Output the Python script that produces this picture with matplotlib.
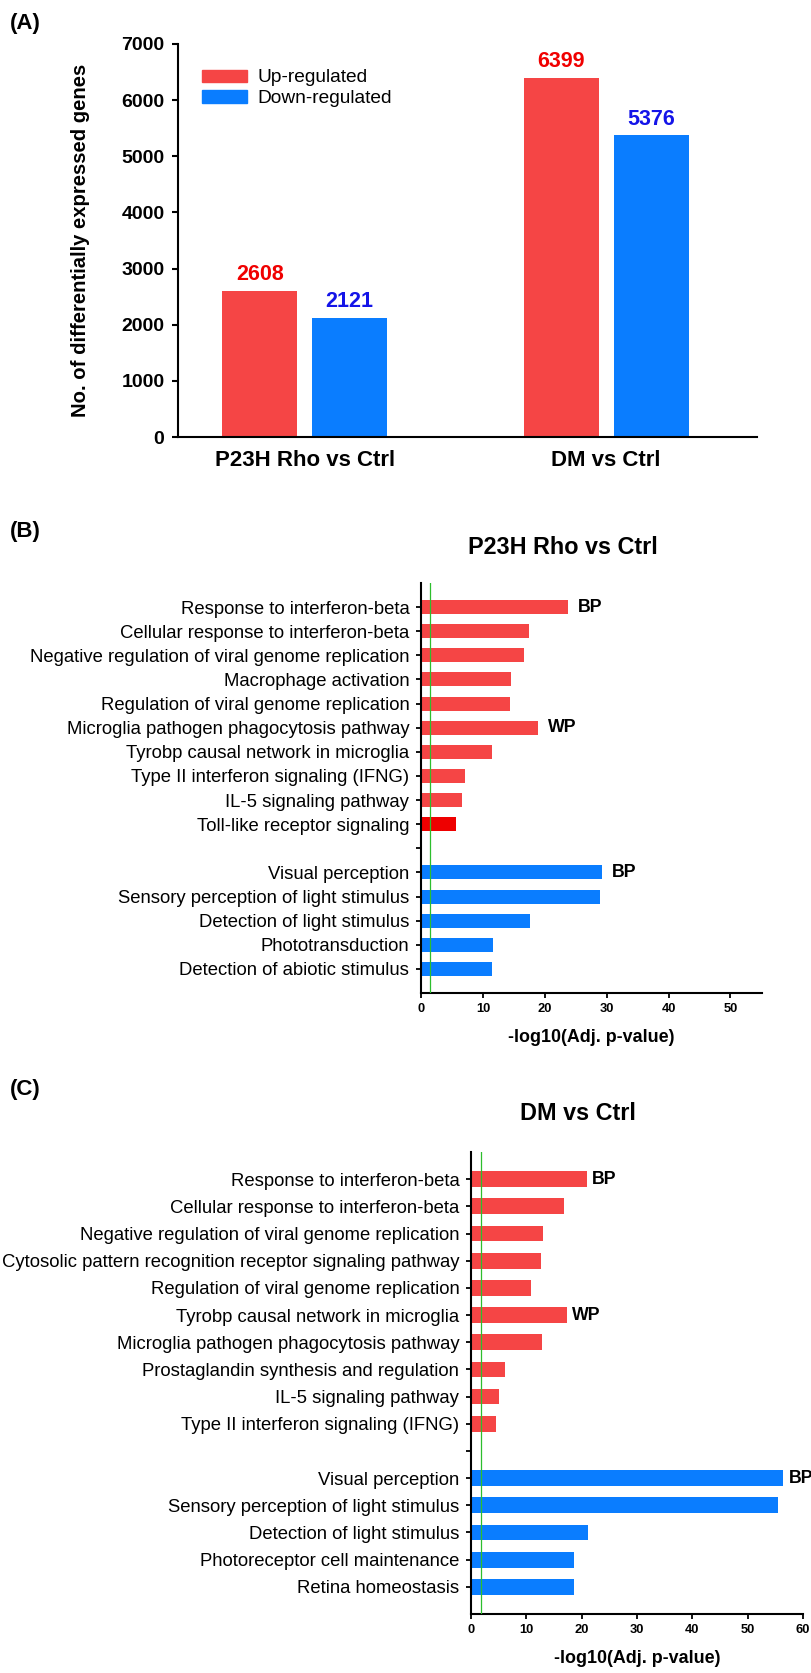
import numpy as np
import matplotlib
matplotlib.use("Agg")
import matplotlib.pyplot as plt
from matplotlib.patches import Patch

plt.rcParams["font.family"] = ["Liberation Sans", "DejaVu Sans"]

# ---------------- Panel A: number of DEGs ----------------
comparisons = ["P23H Rho vs Ctrl", "DM vs Ctrl"]
up_counts = [2608, 6399]
down_counts = [2121, 5376]
deg_ticks = [0, 1000, 2000, 3000, 4000, 5000, 6000, 7000]

# ---------------- Panel B: P23H Rho vs Ctrl enrichment ----------------
b_title = "P23H Rho vs Ctrl"
b_up_terms = [
    "Response to interferon-beta",
    "Cellular response to interferon-beta",
    "Negative regulation of viral genome replication",
    "Macrophage activation",
    "Regulation of viral genome replication",
    "Microglia pathogen phagocytosis pathway",
    "Tyrobp causal network in microglia",
    "Type II interferon signaling (IFNG)",
    "IL-5 signaling pathway",
    "Toll-like receptor signaling",
]
b_up_vals = [23.7, 17.4, 16.6, 14.5, 14.4, 18.9, 11.5, 7.1, 6.7, 5.6]
b_up_tags = ["BP", "", "", "", "", "WP", "", "", "", ""]
b_down_terms = [
    "Visual perception",
    "Sensory perception of light stimulus",
    "Detection of light stimulus",
    "Phototransduction",
    "Detection of abiotic stimulus",
]
b_down_vals = [29.2, 29.0, 17.6, 11.7, 11.4]
b_down_tags = ["BP", "", "", "", ""]
b_threshold = 1.4
b_xticks = [0, 10, 20, 30, 40, 50]

# ---------------- Panel C: DM vs Ctrl enrichment ----------------
c_title = "DM vs Ctrl"
c_up_terms = [
    "Response to interferon-beta",
    "Cellular response to interferon-beta",
    "Negative regulation of viral genome replication",
    "Cytosolic pattern recognition receptor signaling pathway",
    "Regulation of viral genome replication",
    "Tyrobp causal network in microglia",
    "Microglia pathogen phagocytosis pathway",
    "Prostaglandin synthesis and regulation",
    "IL-5 signaling pathway",
    "Type II interferon signaling (IFNG)",
]
c_up_vals = [20.9, 16.8, 13.0, 12.7, 10.8, 17.3, 12.9, 6.1, 5.0, 4.6]
c_up_tags = ["BP", "", "", "", "", "WP", "", "", "", ""]
c_down_terms = [
    "Visual perception",
    "Sensory perception of light stimulus",
    "Detection of light stimulus",
    "Photoreceptor cell maintenance",
    "Retina homeostasis",
]
c_down_vals = [56.4, 55.5, 21.1, 18.7, 18.6]
c_down_tags = ["BP", "", "", "", ""]
c_threshold = 1.75
c_xticks = [0, 10, 20, 30, 40, 50, 60]

UP = "#F54545"
DOWN = "#0A7DFF"
TLR = "#EE0000"
GREEN = "#2DBE2D"
UP_TXT = "#F00000"
DOWN_TXT = "#1414E8"

W, H = 812, 1673
fig = plt.figure(figsize=(W / 100, H / 100), dpi=100)


def box(left, top, right, bottom):
    return [left / W, 1 - bottom / H, (right - left) / W, (bottom - top) / H]


def style_spines(ax, lw=1.5):
    for s in ("top", "right"):
        ax.spines[s].set_visible(False)
    for s in ("left", "bottom"):
        ax.spines[s].set_linewidth(lw)


# ---------------- (A) ----------------
axA = fig.add_axes(box(178, 44, 757, 437))
x = np.arange(len(comparisons))
w, off = 0.249, 0.149
bu = axA.bar(x - off, up_counts, w, color=UP)
bd = axA.bar(x + off, down_counts, w, color=DOWN)
axA.bar_label(bu, padding=4, color=UP_TXT, fontsize=15.5, fontweight="bold")
axA.bar_label(bd, padding=4, color=DOWN_TXT, fontsize=15.5, fontweight="bold")
axA.set_xlim(-0.42, 1.5)
axA.set_ylim(0, 7000)
axA.set_yticks(deg_ticks)
axA.set_yticklabels([str(t) for t in deg_ticks], fontsize=14, fontweight="bold")
axA.set_xticks(x)
axA.set_xticklabels(comparisons, fontsize=16, fontweight="bold")
axA.tick_params(axis="x", length=0, pad=9.5)
axA.tick_params(axis="y", length=4.3, width=1.5, pad=5.5)
style_spines(axA)
axA.legend(
    handles=[Patch(color=UP), Patch(color=DOWN)],
    labels=["Up-regulated", "Down-regulated"],
    loc="upper left",
    bbox_to_anchor=((201.7 - 178) / 579, (437 - 69.5) / 393),
    frameon=False, fontsize=13.8, borderpad=0, borderaxespad=0,
    handlelength=2.35, handleheight=0.61, handletextpad=0.55, labelspacing=0.2,
)
fig.text(81 / W, 1 - 240 / H, "No. of differentially expressed genes",
         rotation=90, ha="center", va="center", fontsize=14.6, fontweight="bold")


# ---------------- (B), (C) ----------------
def enrichment(ax, up_terms, up_vals, up_colors, up_tags,
               down_terms, down_vals, down_tags,
               xmax, xticks, threshold, tag_pad):
    n_up, n_down = len(up_terms), len(down_terms)
    y_up = np.arange(n_up)
    y_down = n_up + 1 + np.arange(n_down)
    ax.barh(y_up, up_vals, height=0.58, color=up_colors)
    ax.barh(y_down, down_vals, height=0.58, color=DOWN)
    for ys, vals, tags in ((y_up, up_vals, up_tags), (y_down, down_vals, down_tags)):
        for yy, v, t in zip(ys, vals, tags):
            if t:
                ax.annotate(t, (v, yy), xytext=(tag_pad, 0), textcoords="offset points",
                            ha="left", va="center", fontsize=12.8, fontweight="bold",
                            annotation_clip=False)
    ax.axvline(threshold, color=GREEN, lw=0.9, zorder=3)
    ax.set_yticks(np.concatenate([y_up, [n_up], y_down]))
    ax.set_yticklabels(list(up_terms) + [""] + list(down_terms), fontsize=13.3)
    ax.set_ylim(n_up + 1 + n_down, -1)
    ax.set_xlim(0, xmax)
    ax.set_xticks(xticks)
    ax.set_xticklabels([str(t) for t in xticks], fontsize=9.3, fontweight="bold")
    ax.tick_params(axis="y", length=3.4, width=1.3, pad=5)
    ax.tick_params(axis="x", length=3.4, width=1.3, pad=4)
    ax.set_xlabel("-log10(Adj. p-value)", fontsize=12.9, fontweight="bold", labelpad=10)
    style_spines(ax)


axB = fig.add_axes(box(421, 583, 762, 993))
b_colors = [UP] * (len(b_up_terms) - 1) + [TLR]
enrichment(axB, b_up_terms, b_up_vals, b_colors, b_up_tags,
           b_down_terms, b_down_vals, b_down_tags,
           55.1, b_xticks, b_threshold, 7)
fig.text(563 / W, 1 - 548 / H, b_title, ha="center", va="center",
         fontsize=16.8, fontweight="bold")

axC = fig.add_axes(box(471, 1152, 803, 1614))
enrichment(axC, c_up_terms, c_up_vals, [UP] * len(c_up_terms), c_up_tags,
           c_down_terms, c_down_vals, c_down_tags,
           60, c_xticks, c_threshold, 4)
fig.text(577.5 / W, 1 - 1113 / H, c_title, ha="center", va="center",
         fontsize=16.8, fontweight="bold")

# panel letters
for lab, ypx in (("(A)", 23), ("(B)", 532), ("(C)", 1089)):
    fig.text(10 / W, 1 - ypx / H, lab, ha="left", va="center",
             fontsize=16, fontweight="bold")

fig.savefig("out.png", dpi=100)
